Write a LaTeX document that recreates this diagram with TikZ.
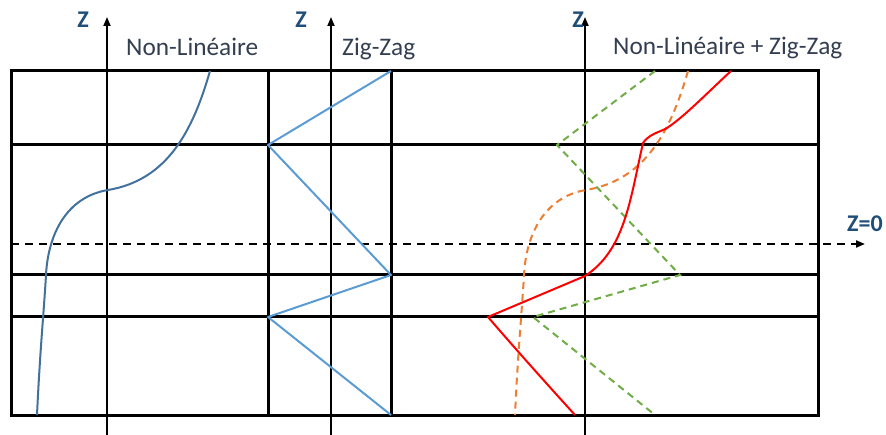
\documentclass[tikz,border=0pt]{standalone}
\usepackage{fontspec}
\setmainfont{Carlito}
\usetikzlibrary{arrows.meta}
\definecolor{zblue}{HTML}{1F4E79}
\definecolor{txtgray}{HTML}{333F50}
\definecolor{nlblue}{HTML}{41719C}
\definecolor{zzblue}{HTML}{5B9BD5}
\definecolor{zzgreen}{HTML}{70AD47}
\definecolor{nlorange}{HTML}{ED7D31}
\tikzset{
  gridline/.style={line width=3pt, black},
  axisline/.style={line width=1.8pt, black, -{Triangle[length=9pt,width=7pt]}},
  zlabel/.style={font=\fontsize{24}{27}\selectfont\bfseries, text=zblue, inner sep=0pt},
  title/.style={font=\fontsize{25.3}{29}\selectfont, text=txtgray, inner sep=0pt, anchor=base west},
  curve/.style={line width=2pt, line join=round},
  dashcurve/.style={line width=2pt, dash pattern=on 7pt off 5pt},
}
\begin{document}
\begin{tikzpicture}[x=1pt,y=-1pt]
\useasboundingbox (0,0) rectangle (886,435);
% grid
\draw[gridline] (11,71) rectangle (818,415);
\foreach \yy in {145,275,317} \draw[gridline] (11,\yy) -- (818,\yy);
\foreach \xx in {268,391} \draw[gridline] (\xx,71) -- (\xx,415);
% axes
\coordinate (a1b) at (107,435); \coordinate (a1t) at (107,17);
\coordinate (a2b) at (331,435); \coordinate (a2t) at (331,17);
\coordinate (a3b) at (585,435); \coordinate (a3t) at (585,17);
\draw[axisline] (a1b) -- (a1t);
\draw[axisline] (a2b) -- (a2t);
\draw[axisline] (a3b) -- (a3t);
% Z=0 line
\coordinate (z0s) at (11,244); \coordinate (z0e) at (865,244);
\draw[line width=2pt, dash pattern=on 8pt off 6pt, -{Triangle[length=9pt,width=7pt]}] (z0s) -- (z0e);
% labels
\node[zlabel] (zl1) at (83,20) {Z};
\node[zlabel] (zl2) at (301,20) {Z};
\node[zlabel] (zl3) at (578,20) {Z};
\node[zlabel, anchor=base west] (zl0) at (847,232) {Z=0};
\node[title] (t1) at (126,56) {Non-Linéaire};
\node[title] (t2) at (342,56) {Zig-Zag};
\node[title] (t3) at (613,55) {Non-Linéaire + Zig-Zag};
% non-linear curve
\draw[curve, nlblue] (210,71) .. controls (193,130) and (168,180) .. (108,190)
  .. controls (66,197) and (48,235) .. (46,275)
  .. controls (44,310) and (40,350) .. (37,415);
% zig-zag
\draw[curve, zzblue] (391,71) -- (268,145) -- (391,275) -- (268,317) -- (391,415);
% orange dashed (shifted non-linear)
\begin{scope}[shift={(478,0)}]
\draw[dashcurve, nlorange] (210,71) .. controls (193,130) and (168,180) .. (108,190)
  .. controls (66,197) and (48,235) .. (46,275)
  .. controls (44,310) and (40,350) .. (37,415);
\end{scope}
% green dashed zig-zag
\draw[dashcurve, zzgreen, line join=miter] (655,71) -- (557,145) -- (680,275) -- (533,317) -- (655,415);
% red combined
\draw[curve, red] (731,71) .. controls (705,95) and (685,116) .. (667,128)
  .. controls (660,132) and (649,134) .. (643,143)
  .. controls (630,200) and (625,250) .. (585,276)
  -- (488,317) .. controls (512,345) and (545,382) .. (575,415);
\end{tikzpicture}
\end{document}
